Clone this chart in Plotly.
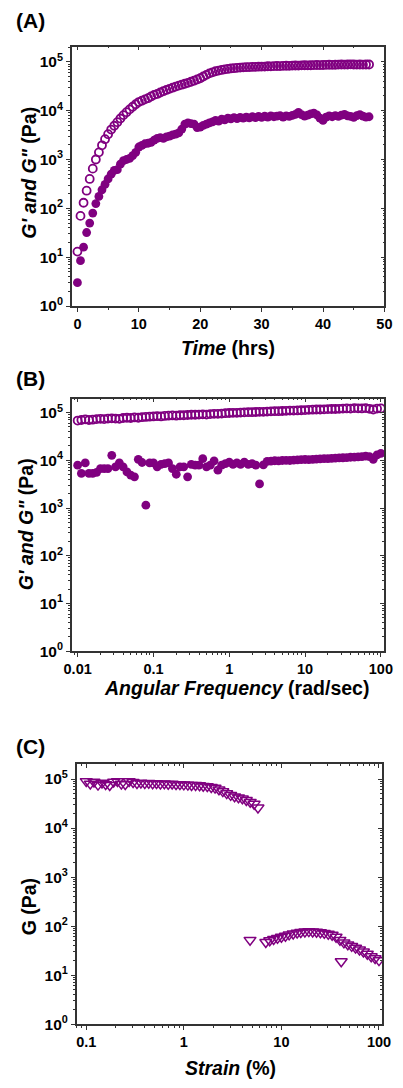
import plotly.graph_objects as go

PURPLE = "#800080"
AXC = "#333333"
FONT = "Liberation Sans, Arial, sans-serif"

# ---------------- Panel A: time sweep ----------------
time_hrs = [0, 0.5, 1, 1.5, 2, 2.5, 3, 3.5, 4, 4.5, 5, 5.5, 6, 6.5, 7, 7.5, 8, 8.5, 9, 9.5,
            10, 10.5, 11, 11.5, 12, 12.5, 13, 13.5, 14, 14.5, 15, 15.5, 16, 16.5, 17, 17.5, 18, 18.5, 19, 19.5,
            20, 20.5, 21, 21.5, 22, 22.5, 23, 23.5, 24, 24.5, 25, 25.5, 26, 26.5, 27, 27.5, 28, 28.5, 29, 29.5,
            30, 30.5, 31, 31.5, 32, 32.5, 33, 33.5, 34, 34.5, 35, 35.5, 36, 36.5, 37, 37.5, 38, 38.5, 39, 39.5,
            40, 40.5, 41, 41.5, 42, 42.5, 43, 43.5, 44, 44.5, 45, 45.5, 46, 46.5, 47, 47.5]
gp_time = [13, 70, 130, 230, 400, 650, 1000, 1400, 1950, 2600, 3300, 4100, 4900, 5800, 6900, 8100, 9300, 10600, 12000, 13500,
           15000, 16000, 17000, 18000, 19500, 21000, 22000, 23500, 25000, 26500, 28000, 29500, 31000, 32500, 34000, 35500, 37000, 39000, 41000, 43500,
           46000, 50000, 54000, 58000, 61000, 64000, 66000, 68000, 70000, 71500, 73000, 74000, 75000, 76000, 77000, 77500, 78000, 78500, 79000, 79500,
           80000, 80000, 81000, 80500, 81500, 82000, 81500, 82500, 83000, 82500, 83500, 84000, 83500, 84500, 85000, 84500, 85000, 85500, 86000, 85500,
           86000, 86500, 87000, 86500, 87000, 87500, 88000, 87500, 88000, 88500, 88000, 87500, 88000, 87500, 88000, 88000]
gpp_time = [3, 8.5, 16, 32, 50, 80, 125, 175, 240, 310, 400, 500, 600, 620, 800, 950, 1000, 1050, 1200, 1400,
            1800, 1950, 2100, 2150, 2250, 2500, 2700, 2800, 2700, 2900, 3000, 3200, 3300, 3500, 4200, 5300, 5600, 5400, 5300, 4500,
            4600, 5000, 5300, 5600, 5900, 6300, 6100, 6700, 6500, 7000, 6800, 7200, 6900, 7300, 7000, 7400, 7100, 7500, 7200, 7600,
            7300, 7700, 7400, 7800, 7500, 7700, 7900, 7400, 7800, 7600, 8000, 8400, 9200, 8300, 7700, 8100, 8600, 8900, 8200, 7000,
            6300, 7400, 7800, 7500, 7900, 7600, 8100, 8400, 7800, 7600, 7300, 7900, 8300, 7700, 7400, 7500]

# ---------------- Panel B: frequency sweep ----------------
freq = [0.0100, 0.0112, 0.0126, 0.0141, 0.0158, 0.0178, 0.0200, 0.0224, 0.0251, 0.0282,
        0.0316, 0.0355, 0.0398, 0.0447, 0.0501, 0.0562, 0.0631, 0.0708, 0.0794, 0.0891,
        0.100, 0.112, 0.126, 0.141, 0.158, 0.178, 0.200, 0.224, 0.251, 0.282,
        0.316, 0.355, 0.398, 0.447, 0.501, 0.562, 0.631, 0.708, 0.794, 0.891,
        1.00, 1.12, 1.26, 1.41, 1.58, 1.78, 2.00, 2.24, 2.51, 2.82,
        3.16, 3.55, 3.98, 4.47, 5.01, 5.62, 6.31, 7.08, 7.94, 8.91,
        10.0, 11.2, 12.6, 14.1, 15.8, 17.8, 20.0, 22.4, 25.1, 28.2,
        31.6, 35.5, 39.8, 44.7, 50.1, 56.2, 63.1, 70.8, 79.4, 89.1, 100]
gp_freq = [68000, 70000, 72000, 70000, 71000, 73000, 74000, 73000, 75000, 76000,
           75000, 74000, 77000, 78000, 77000, 79000, 78000, 80000, 81000, 82000,
           83000, 84000, 83000, 85000, 86000, 87000, 86000, 88000, 88000, 89000,
           90000, 90000, 91000, 92000, 91000, 93000, 94000, 94000, 95000, 97000,
           98000, 99000, 99000, 100000, 101000, 102000, 102000, 103000, 104000, 104000,
           105000, 106000, 107000, 107000, 108000, 109000, 110000, 110000, 111000, 112000,
           113000, 114000, 115000, 116000, 116000, 117000, 118000, 119000, 119000, 120000,
           121000, 122000, 121000, 124000, 123000, 122000, 124000, 120000, 116000, 121000, 122000]
gpp_freq = [7900, 5300, 8800, 5300, 5300, 5600, 6700, 6700, 6700, 12700,
            7300, 8800, 7300, 5700, 4900, 4500, 10500, 9000, 1150, 8800,
            8800, 7300, 8200, 8500, 8800, 6700, 5100, 7300, 7300, 4500,
            8200, 7900, 7900, 10800, 7300, 7900, 9700, 6200, 7900, 8500,
            9200, 8200, 8800, 8200, 9200, 8200, 8500, 7900, 3200, 8000,
            9500, 9600, 9800, 9700, 9900, 10000, 9900, 10100, 10200, 10300,
            10400, 10300, 10500, 10600, 10700, 10800, 10800, 11000, 11100, 11200,
            11300, 11400, 11600, 11700, 11800, 12000, 12200, 12000, 10500, 13000, 14000]

# ---------------- Panel C: strain sweep ----------------
strain = [0.100, 0.110, 0.120, 0.132, 0.145, 0.158, 0.174, 0.191, 0.209, 0.229,
          0.251, 0.275, 0.302, 0.331, 0.363, 0.398, 0.437, 0.479, 0.525, 0.575,
          0.631, 0.692, 0.759, 0.832, 0.912, 1.00, 1.10, 1.20, 1.32, 1.45,
          1.58, 1.74, 1.91, 2.09, 2.29, 2.51, 2.75, 3.02, 3.31, 3.63,
          3.98, 4.37, 4.79, 5.25, 5.75,
          4.77, 6.92, 7.59, 8.32, 9.12, 10.0, 11.0, 12.0, 13.2, 14.5,
          15.8, 17.4, 19.1, 20.9, 22.9, 25.1, 27.5, 30.2, 33.1, 36.3,
          39.8, 41.0, 43.7, 47.9, 52.5, 57.5, 63.1, 69.2, 75.9, 83.2, 91.2, 100]
g_strain = [90000, 80000, 88000, 76000, 84000, 78000, 75000, 88000, 90000, 80000,
            78000, 90000, 86000, 82000, 84000, 82000, 83000, 81000, 82000, 80000,
            81000, 79000, 80000, 78000, 78000, 77000, 76000, 75000, 75000, 74000,
            72000, 71000, 68000, 66000, 61000, 56000, 51000, 47000, 44000, 42000,
            40000, 37000, 34000, 31000, 26000,
            52, 47, 51, 54, 57, 60, 63, 67, 70, 73,
            75, 77, 78, 77, 76, 74, 72, 69, 66, 60,
            52, 19, 46, 42, 39, 36, 33, 30, 27, 24, 22, 20]

decade_vals = [1, 10, 100, 1000, 10000, 100000]
decade_text = ["10<sup>%d</sup>" % i for i in range(6)]
minor_log = [m * 10 ** e for e in range(-3, 6) for m in range(2, 10)]

W, H = 403, 1088

def px_x(p):
    return p / W

def px_y(p):
    return 1 - p / H

fig = go.Figure()

panels = [
    dict(xd=(66.7, 393.0), yd=(47.0, 308.3), xtype="linear", xr=[-0.9, 50.0], yr=[0, 5.31]),
    dict(xd=(66.7, 392.7), yd=(401.7, 656.0), xtype="log", xr=[-2.076, 2.043], yr=[0, 5.29]),
    dict(xd=(71.7, 390.7), yd=(770.0, 1031.7), xtype="log", xr=[-1.098, 2.033], yr=[0, 5.30]),
]

xtickfont = dict(family=FONT, size=14.5, color="black", weight="bold")
ytickfont = dict(family=FONT, size=15.5, color="black", weight="bold")
layout = {}
for i, p in enumerate(panels):
    n = 4 * i
    xa, ya, xt, yr_ = n + 1, n + 2, n + 3, n + 4
    xdom = [px_x(p["xd"][0]), px_x(p["xd"][1])]
    ydom = [px_y(p["yd"][1]), px_y(p["yd"][0])]
    if p["xtype"] == "linear":
        xtick = dict(tickmode="array", tickvals=[0, 10, 20, 30, 40, 50],
                     ticktext=["0", "10", "20", "30", "40", "50"])
        xminor = dict(tickmode="array", tickvals=[5, 15, 25, 35, 45])
    else:
        if i == 1:
            tv = [0.01, 0.1, 1, 10, 100]
            tt = ["0.01", "0.1", "1", "10", "100"]
        else:
            tv = [0.1, 1, 10, 100]
            tt = ["0.1", "1", "10", "100"]
        xtick = dict(tickmode="array", tickvals=tv, ticktext=tt)
        xminor = dict(tickmode="array", tickvals=minor_log)
    common_x = dict(type=p["xtype"], range=p["xr"], domain=xdom, showgrid=False, zeroline=False,
                    showline=True, linecolor=AXC, linewidth=1.5, tickcolor=AXC, tickwidth=1.2)
    common_y = dict(type="log", range=p["yr"], domain=ydom, showgrid=False, zeroline=False,
                    showline=True, linecolor=AXC, linewidth=1.5, tickcolor=AXC, tickwidth=1.2,
                    tickmode="array", tickvals=decade_vals, ticktext=decade_text)
    layout["xaxis%d" % xa] = dict(common_x, anchor="y%d" % ya, side="bottom", ticks="outside", ticklen=4,
                                  tickfont=xtickfont,
                                  minor=dict(xminor, ticks="outside", ticklen=2, tickcolor=AXC, tickwidth=1, showgrid=False),
                                  **xtick)
    layout["yaxis%d" % ya] = dict(common_y, anchor="x%d" % xa, side="left", ticks="outside", ticklen=4,
                                  tickfont=ytickfont,
                                  minor=dict(tickmode="array", tickvals=minor_log, ticks="outside", ticklen=2,
                                             tickcolor=AXC, tickwidth=1, showgrid=False))
    layout["xaxis%d" % xt] = dict(common_x, anchor="y%d" % ya, overlaying="x%d" % xa, side="top",
                                  ticks="inside", ticklen=4, showticklabels=False,
                                  minor=dict(xminor, ticks="inside", ticklen=2, tickcolor=AXC, tickwidth=1, showgrid=False),
                                  **xtick)
    layout["yaxis%d" % yr_] = dict(common_y, anchor="x%d" % xa, overlaying="y%d" % ya, side="right",
                                   ticks="inside", ticklen=4, showticklabels=False,
                                   minor=dict(tickmode="array", tickvals=minor_log, ticks="inside", ticklen=2,
                                              tickcolor=AXC, tickwidth=1, showgrid=False))
    fig.add_trace(go.Scatter(x=[None], y=[None], xaxis="x%d" % xt, yaxis="y%d" % ya,
                             showlegend=False, hoverinfo="skip"))
    fig.add_trace(go.Scatter(x=[None], y=[None], xaxis="x%d" % xa, yaxis="y%d" % yr_,
                             showlegend=False, hoverinfo="skip"))

filled = dict(symbol="circle", size=8.8, color=PURPLE, line=dict(color=PURPLE, width=0))
opened = dict(symbol="circle-open", size=8, color=PURPLE, line=dict(color=PURPLE, width=1.8))

fig.add_trace(go.Scatter(x=time_hrs, y=gpp_time, mode="markers", marker=filled,
                         xaxis="x1", yaxis="y2", name="G''", showlegend=False))
fig.add_trace(go.Scatter(x=time_hrs, y=gp_time, mode="markers", marker=opened,
                         xaxis="x1", yaxis="y2", name="G'", showlegend=False))
fig.add_trace(go.Scatter(x=freq, y=gpp_freq, mode="markers", marker=filled,
                         xaxis="x5", yaxis="y6", name="G''", showlegend=False))
fig.add_trace(go.Scatter(x=freq, y=gp_freq, mode="markers", marker=opened,
                         xaxis="x5", yaxis="y6", name="G'", showlegend=False))
fig.add_trace(go.Scatter(x=strain, y=g_strain, mode="markers",
                         marker=dict(symbol="triangle-down-open", size=10.5, color=PURPLE,
                                     line=dict(color=PURPLE, width=1.5)),
                         xaxis="x9", yaxis="y10", name="G", showlegend=False))

annots = []
def ann(text, x, y, size=19.5, angle=0):
    annots.append(dict(text=text, x=px_x(x), y=px_y(y), xref="paper", yref="paper",
                       showarrow=False, textangle=angle, xanchor="center", yanchor="middle",
                       font=dict(family=FONT, size=size, color="black", weight="bold")))

ann("(A)", 24, 21, size=21)
ann("(B)", 24, 381, size=21)
ann("(C)", 24, 752, size=21)
ann("<i>G' and G\"</i> (Pa)", 22, 174, angle=-90)
ann("<i>G' and G\"</i> (Pa)", 19, 528, angle=-90)
ann("G (Pa)", 22, 914, angle=-90)
ann("<i>Time</i> (hrs)", 230, 351)
ann("<i>Angular Frequency</i> (rad/sec)", 239, 693)
ann("<i>Strain</i> (%)", 232, 1076)

fig.update_layout(width=W, height=H, margin=dict(l=0, r=0, t=0, b=0),
                  paper_bgcolor="white", plot_bgcolor="white", showlegend=False,
                  annotations=annots, **layout)

fig.write_html("out.html", config={"displayModeBar": False},
               post_script="document.body.style.margin='0';document.body.style.overflow='hidden';")
